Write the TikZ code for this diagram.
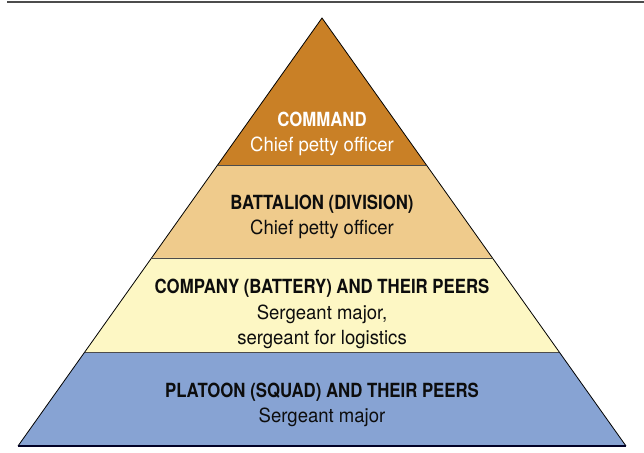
\documentclass[tikz,border=0pt]{standalone}
\usepackage{fontspec}
\setsansfont{TeX Gyre Heros}[FakeStretch=0.95]
\newfontfamily\titlefont{TeX Gyre Heros}[FakeStretch=0.86]
\usetikzlibrary{calc}
\definecolor{cmdbrown}{HTML}{C98026}
\definecolor{battan}{HTML}{EFCB8C}
\definecolor{compyellow}{HTML}{FDF7C4}
\definecolor{platblue}{HTML}{87A3D3}
\newcommand\leveltitle[1]{{\titlefont\bfseries #1}}
\tikzset{%
	level text/.style={font=\sffamily\fontsize{19.5}{25.5}\selectfont,
		align=center,inner sep=0pt,text=black!95},%
	divider/.style={line width=0.8pt,black!70},%
	edge/.style={line width=0.8pt,black}%
}

\begin{document}
\begin{tikzpicture}[x=1pt,y=-1pt]
	\useasboundingbox (0,0) rectangle (644,452);
	
	% rule at the top
	\draw[line width=1.6pt,black!70] (7,2) -- (644,2);
	
	%% pyramid corners
	\coordinate (A) at (322,18); % apex
	\coordinate (BL) at (18,446);
	\coordinate (BR) at (626,446);
	% level boundaries on the slanted sides
	\foreach \t/\n in {0.6565/1,0.4393/2,0.2196/3} {
		\coordinate (L\n) at ($(BL)!\t!(A)$);
		\coordinate (R\n) at ($(BR)!\t!(A)$);
	}
	
	%% levels
	\fill[cmdbrown] (A) -- (R1) -- (L1) -- cycle;
	\fill[battan] (L1) -- (R1) -- (R2) -- (L2) -- cycle;
	\fill[compyellow] (L2) -- (R2) -- (R3) -- (L3) -- cycle;
	\fill[platblue] (L3) -- (R3) -- (BR) -- (BL) -- cycle;
	
	\draw[divider] (L1) -- (R1);
	\draw[divider] (L2) -- (R2);
	\draw[divider] (L3) -- (R3);
	\draw[edge] (BL) -- (A) -- (BR);
	\draw[line width=1.2pt,black!75!blue!60!black] (BL) -- (BR);
	
	%% labels
	\node[level text,text=white] (command) at (322,134)
	{\leveltitle{COMMAND}\\Chief petty officer};
	\node[level text] (battalion) at (322,217)
	{\leveltitle{BATTALION (DIVISION)}\\Chief petty officer};
	\node[level text] (company) at (322,314)
	{\leveltitle{COMPANY (BATTERY) AND THEIR PEERS}\\Sergeant major,\\sergeant for logistics};
	\node[level text] (platoon) at (322,405)
	{\leveltitle{PLATOON (SQUAD) AND THEIR PEERS}\\Sergeant major};
\end{tikzpicture}
\end{document}
